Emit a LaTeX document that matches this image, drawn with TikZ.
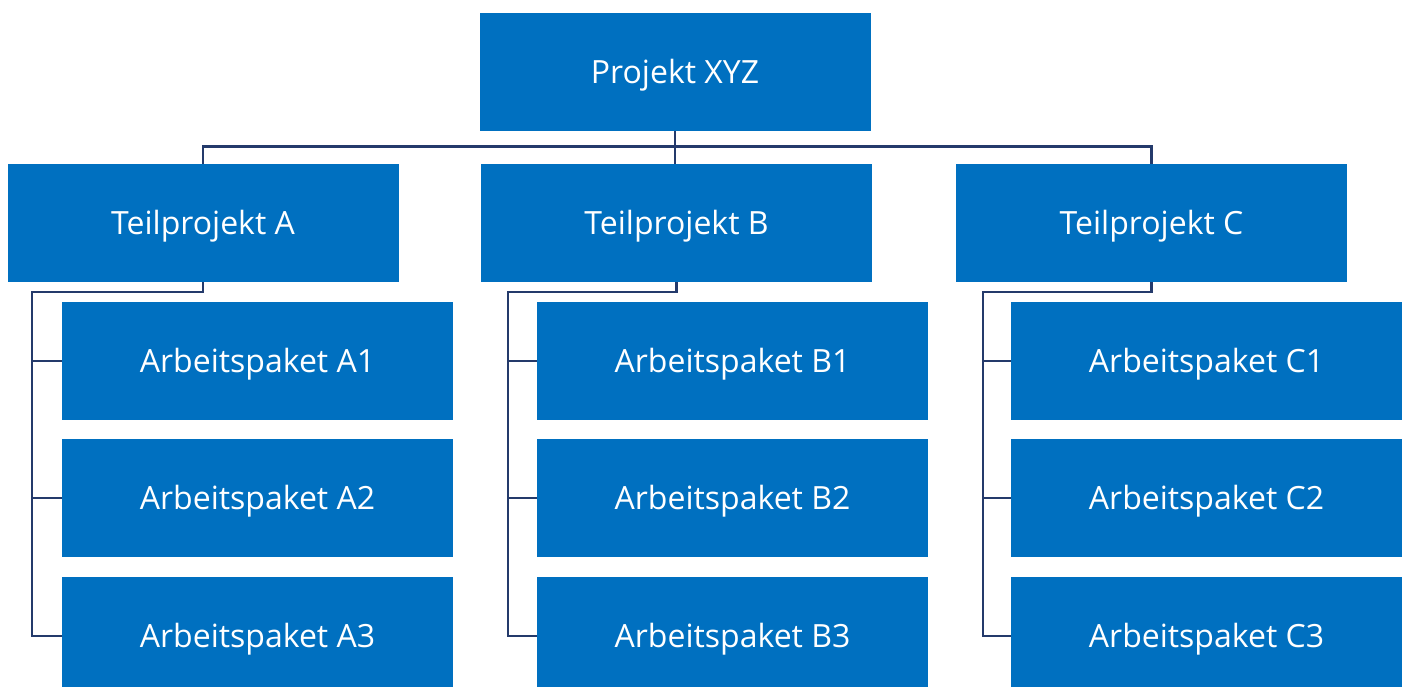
\documentclass[tikz,border=0pt]{standalone}
\usepackage{fontspec}
\setmainfont{Open Sans}
\definecolor{boxblue}{HTML}{0070C0}
\definecolor{linknavy}{HTML}{243A6B}
\begin{document}
\begin{tikzpicture}[x=1pt,y=-1pt,
  box/.style={fill=boxblue, draw=none, minimum width=391pt, minimum height=118pt,
    inner sep=0pt, text=white, text height=22pt, text depth=0pt,
    font=\fontsize{32}{36}\selectfont},
  link/.style={draw=linknavy, line width=2.6pt}]
\useasboundingbox (0,0) rectangle (1407,686);
\begin{scope}
\clip (0,0) rectangle (1407,686);
% top level
\node[box] (top) at (675,72) {Projekt XYZ};
% sub-projects
\node[box] (tA) at (203,223) {Teilprojekt A};
\node[box] (tB) at (676.5,223) {Teilprojekt B};
\node[box] (tC) at (1151.5,223) {Teilprojekt C};
% work packages
\foreach \g/\x in {A/257.5, B/732.5, C/1206.5}{
  \node[box] (a\g1) at (\x,361) {Arbeitspaket \g1};
  \node[box] (a\g2) at (\x,498) {Arbeitspaket \g2};
  \node[box] (a\g3) at (\x,636) {Arbeitspaket \g3};
}
\end{scope}
% connectors from the project to the sub-projects
\path (top.south) ++(0,15) coordinate (bus);
\draw[link] (top.south) -- (bus);
\draw[link] (tA.north) |- (bus) -| (tC.north);
\draw[link] (bus) -- (bus |- tB.north);
% connectors from each sub-project to its work packages
\coordinate (sA) at (32,292);
\coordinate (sB) at (508,292);
\coordinate (sC) at (983,292);
\foreach \g in {A,B,C}{
  \draw[link] (t\g.south) |- (s\g) |- (a\g3.west);
  \draw[link] (s\g |- a\g1.west) -- (a\g1.west);
  \draw[link] (s\g |- a\g2.west) -- (a\g2.west);
}
\end{tikzpicture}
\end{document}
